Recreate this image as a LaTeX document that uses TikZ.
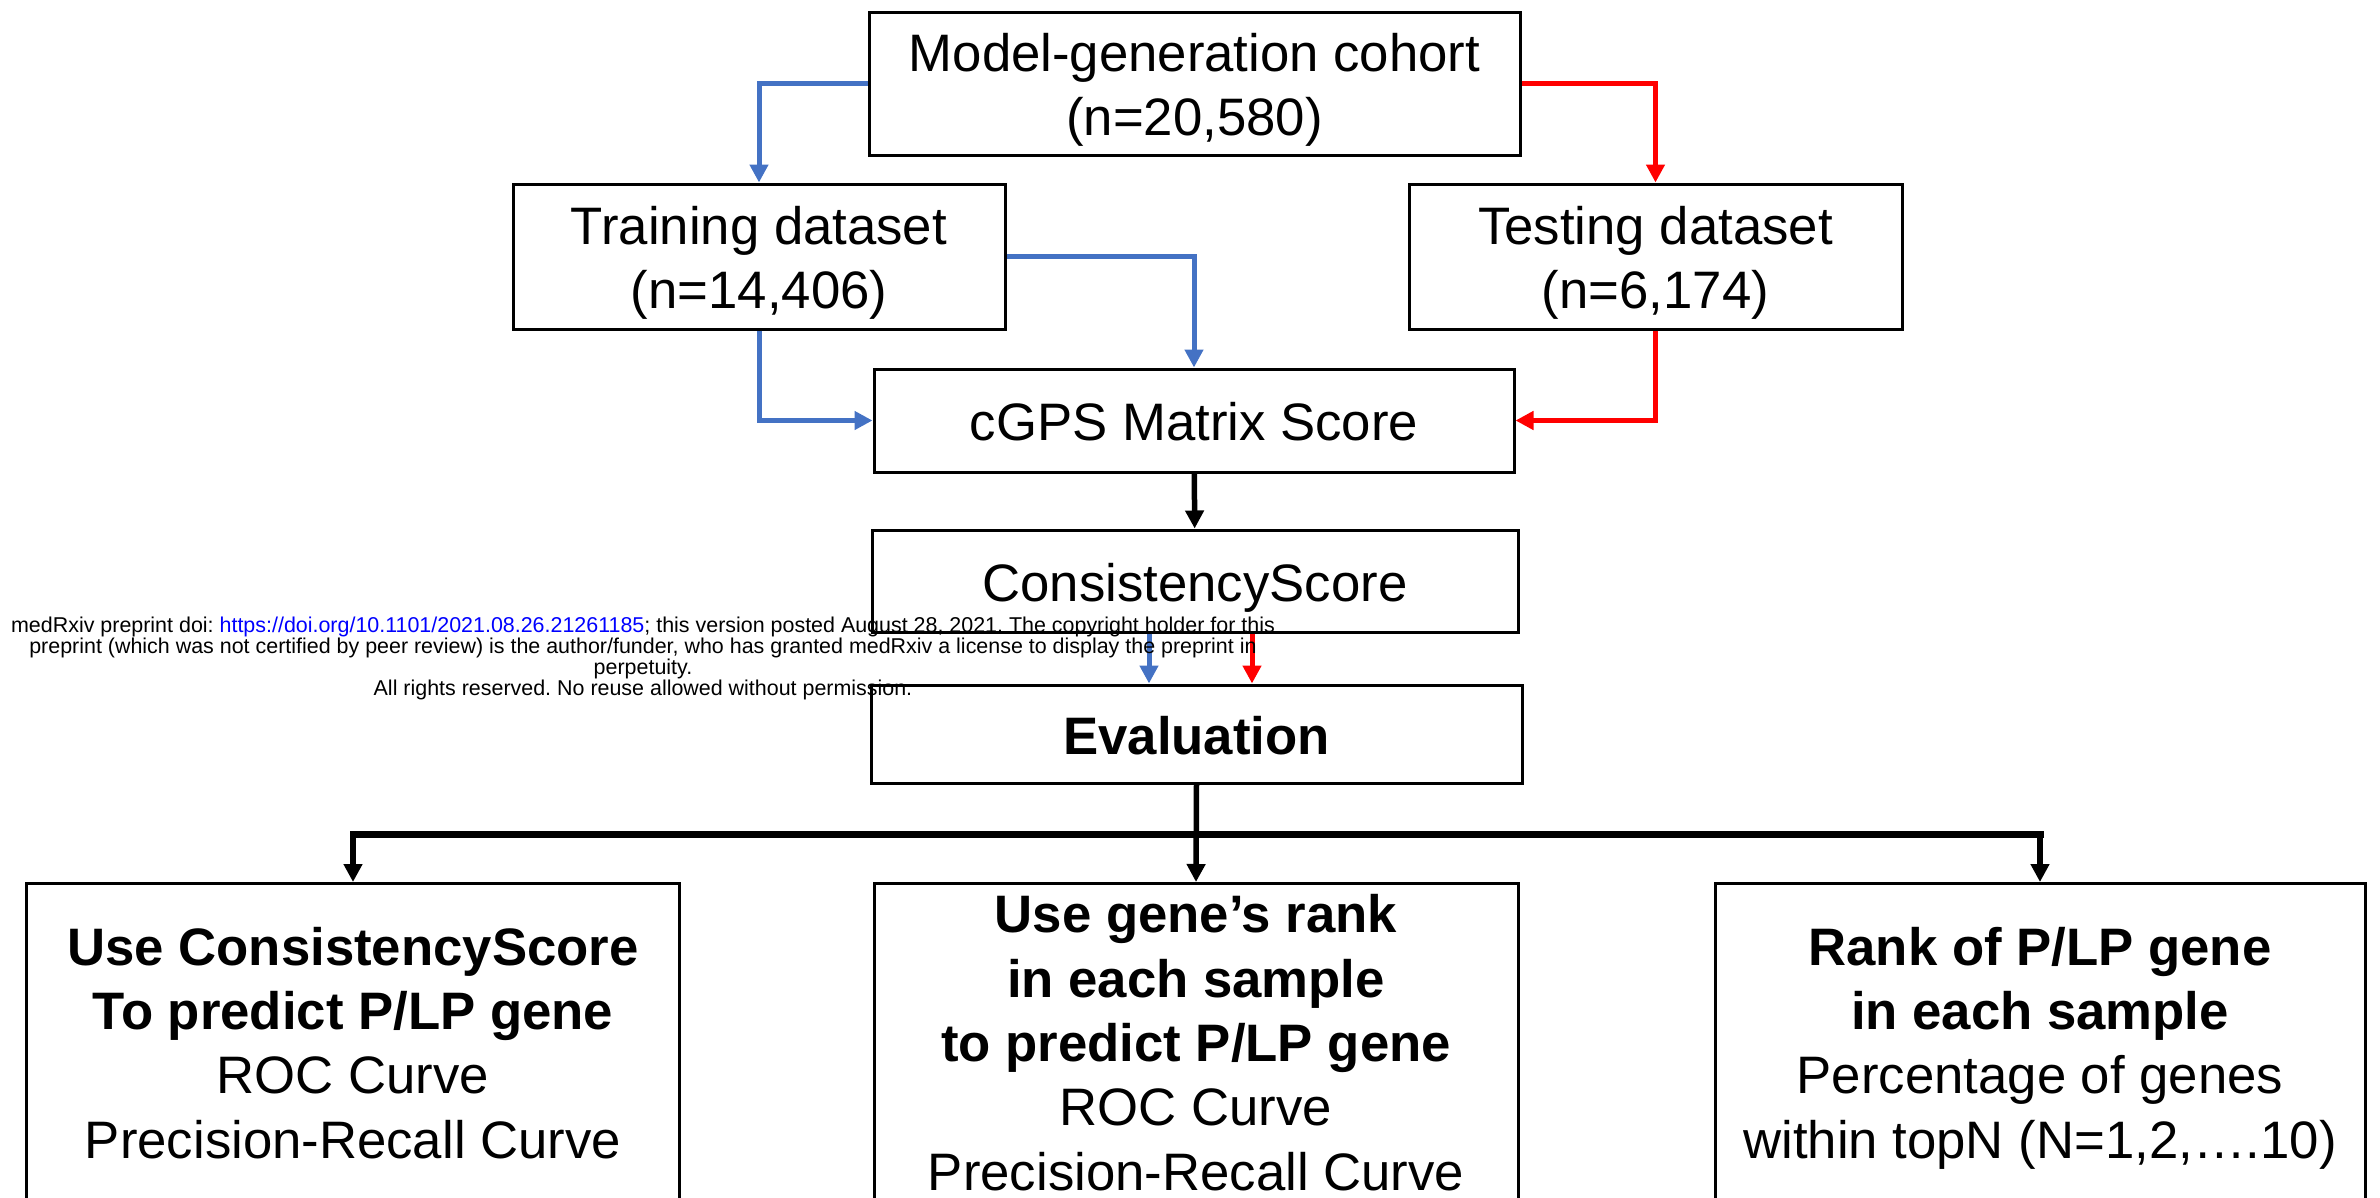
\documentclass[tikz,border=0pt]{standalone}
\usepackage{fontspec}
\setmainfont{Liberation Sans}
\usetikzlibrary{arrows.meta, positioning, calc}
\definecolor{trainblue}{RGB}{68,114,196}
\definecolor{testred}{RGB}{255,0,0}
\definecolor{doiblue}{RGB}{0,0,255}
\newcommand{\boxstrut}{\rule[-3.2pt]{0pt}{17.9pt}}
\newcommand{\resultstrut}{\rule[-3.2pt]{0pt}{16.1pt}}

\begin{document}
\begin{tikzpicture}[>={Triangle[length=1.8mm, width=1.8mm]},
  box/.style={draw, rectangle, line width=0.3mm, align=center, inner sep=0pt, font=\fontsize{15}{18.3}\selectfont,
    execute at end node=\boxstrut},
  result/.style={box, anchor=north, minimum width=6.5cm, minimum height=3.22cm},
  bluearrow/.style={->, line width=0.5mm, trainblue},
  redarrow/.style={->, line width=0.5mm, testred},
  blackarrow/.style={->, line width=0.55mm}]
  \useasboundingbox (0,0) rectangle (23.8,-11.98);

  % Cohort and the two datasets
  \node[box, minimum width=6.51cm, minimum height=1.43cm] (cohort) at (11.945,-0.835) {\boxstrut Model-generation cohort\\(n=20,580)};
  \node[box, minimum width=4.92cm, minimum height=1.45cm] (train) at (7.59,-2.565) {\boxstrut Training dataset\\(n=14,406)};
  \node[box, minimum width=4.93cm, minimum height=1.45cm] (test) at (16.555,-2.565) {\boxstrut Testing dataset\\(n=6,174)};

  % Scores
  \node[box, minimum width=6.40cm, minimum height=1.03cm] (cgps) at (11.94,-4.205) {\boxstrut cGPS Matrix Score};
  \node[box, minimum width=6.46cm, minimum height=1.02cm] (consist) at (11.95,-5.81) {\boxstrut ConsistencyScore};
  \node[box, minimum width=6.51cm, minimum height=0.98cm, font=\fontsize{15}{18.3}\selectfont\bfseries] (eval) at (11.965,-7.34) {\boxstrut Evaluation};

  % Evaluation results
  \node[result, minimum width=6.52cm] (left) at (3.53,-8.82) {\resultstrut\textbf{Use ConsistencyScore}\\\textbf{To predict P/LP gene}\\ROC Curve\\Precision-Recall Curve};
  \node[result, minimum width=6.44cm] (mid) at (11.96,-8.82) {\resultstrut\textbf{Use gene’s rank}\\\textbf{in each sample}\\\textbf{to predict P/LP gene}\\ROC Curve\\Precision-Recall Curve};
  \node[result, minimum width=6.50cm] (right) at (20.40,-8.82) {\resultstrut\textbf{Rank of P/LP gene}\\\textbf{in each sample}\\Percentage of genes\\within topN (N=1,2,….10)};

  % Arrows from cohort to datasets
  \draw[bluearrow] (cohort.west) -| (train.north);
  \draw[redarrow] (cohort.east) -| (test.north);

  % Datasets to cGPS matrix score
  \draw[bluearrow] (train.east) -| (cgps.north);
  \draw[bluearrow] (train.south) |- (cgps.west);
  \draw[redarrow] (test.south) |- (cgps.east);
  \draw[blackarrow] (cgps) -- (consist);

  % Two arrows into evaluation
  \coordinate (bluein) at ($(consist.south)+(-0.46,0)$);
  \coordinate (redin) at ($(consist.south)+(0.57,0)$);
  \draw[bluearrow] (bluein) -- (bluein |- eval.north);
  \draw[redarrow] (redin) -- (redin |- eval.north);

  % Split to the three results
  \coordinate (split) at ($(eval.south)+(0,-0.5)$);
  \draw[line width=0.7mm, line cap=rect] (left.north |- split) -- (right.north |- split);
  \draw[blackarrow] (eval.south) -- (mid.north);
  \draw[blackarrow] (left.north |- split) -- (left.north);
  \draw[blackarrow] (right.north |- split) -- (right.north);

  % Preprint notice
  \node[align=center, inner sep=0pt, font=\fontsize{6.1}{5.97}\selectfont\frenchspacing] (notice) at (6.43,-6.58) {medRxiv preprint doi: \textcolor{doiblue}{https://doi.org/10.1101/2021.08.26.21261185}; this version posted August 28, 2021. The copyright holder for this\\preprint (which was not certified by peer review) is the author/funder, who has granted medRxiv a license to display the preprint in\\perpetuity.\\All rights reserved. No reuse allowed without permission.};
\end{tikzpicture}
\end{document}
